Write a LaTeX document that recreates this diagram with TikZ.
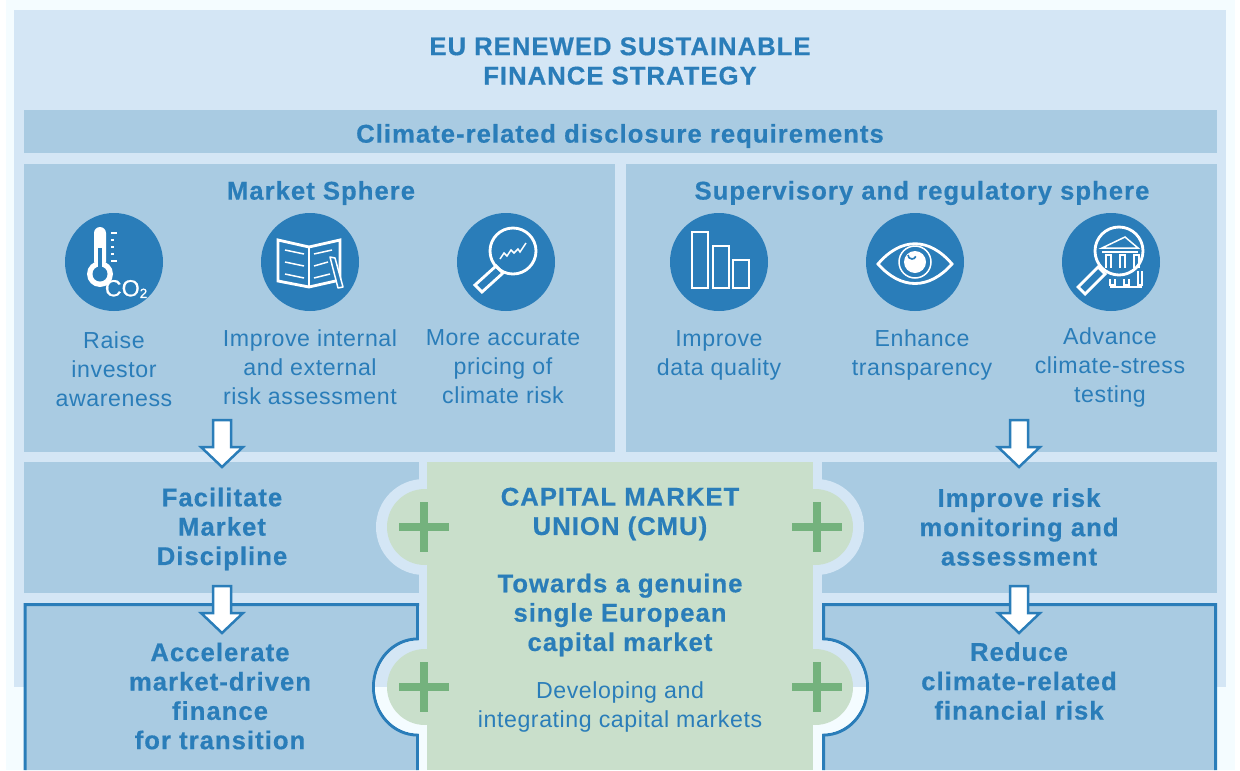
\documentclass[tikz,border=0pt]{standalone}
\usepackage{fontspec}
\setmainfont{Liberation Sans}
\newfontfamily\headfont[LetterSpace=4,FakeBold=0.5]{Liberation Sans Bold}
\newfontfamily\bodyfont[LetterSpace=2.5]{Liberation Sans}
\newfontfamily\iconfont[FakeBold=0.6]{Liberation Sans}
\definecolor{palebg}{HTML}{F4FCFF}
\definecolor{panelbg}{HTML}{D4E6F5}
\definecolor{boxblue}{HTML}{A9CBE2}
\definecolor{inkblue}{HTML}{2A7DB9}
\definecolor{cmugreen}{HTML}{C9DFCB}
\definecolor{plusgreen}{HTML}{74B27D}
\tikzset{
  headtext/.style={text=inkblue,align=center,font=\headfont\fontsize{15.4}{17.6}\selectfont},
  bodytext/.style={text=inkblue,align=center,font=\bodyfont\fontsize{13.9}{17.4}\selectfont},
  iconline/.style={draw=white,line width=1.7pt},
  iconthin/.style={draw=white,line width=0.9pt},
}
\begin{document}
\begin{tikzpicture}[x=0.6pt,y=-0.6pt]
    \useasboundingbox (0,0) rectangle (1240,770);
    %% Backgrounds
    \fill[palebg] (6,0) rectangle (1235,770);
    \fill[panelbg] (14,10) rectangle (1226,687);
    %% Top boxes
    \fill[boxblue] (24,110) rectangle (1217,153);
    \fill[boxblue] (24,164) rectangle (615,452);
    \fill[boxblue] (626,164) rectangle (1217,452);
    %% Middle boxes with their round cut
    \fill[boxblue] (24,462) rectangle (419,593);
    \fill[boxblue] (822,462) rectangle (1217,593);
    \fill[panelbg] (424,527) circle (48);
    \fill[panelbg] (816,527) circle (48);
    %% Lower boxes
    \draw[inkblue,line width=1.8pt,fill=boxblue] (25,770) -- (25,604.5) -- (417.5,604.5) -- (417.5,639)
        arc[start angle=-90,end angle=-270,x radius=44,y radius=48] -- (417.5,770);
    \draw[inkblue,line width=1.8pt,fill=boxblue] (1215.5,770) -- (1215.5,604.5) -- (823.5,604.5) -- (823.5,639)
        arc[start angle=-90,end angle=90,x radius=44,y radius=48] -- (823.5,770);
    \fill[panelbg] (419,606) rectangle (427,687);
    \fill[panelbg] (813,606) rectangle (822,687);
    \fill[panelbg] (419,687) -- (419,640.5) arc[start angle=-90,end angle=-180,x radius=44,y radius=46.5] -- cycle;
    \fill[panelbg] (822,687) -- (822,640.5) arc[start angle=-90,end angle=0,x radius=44,y radius=46.5] -- cycle;
    \fill[palebg] (419,687) -- (375,687) arc[start angle=180,end angle=90,x radius=44,y radius=46.5] -- cycle;
    \fill[palebg] (822,687) -- (866,687) arc[start angle=0,end angle=90,x radius=44,y radius=46.5] -- cycle;
    \fill[palebg] (419,687) rectangle (427,770);
    \fill[palebg] (813,687) rectangle (822,770);
    %% Capital market union
    \fill[cmugreen] (427,462) rectangle (813,770);
    \foreach \cy in {527,687} {
        \fill[cmugreen] (425,\cy) circle (38);
        \fill[cmugreen] (815,\cy) circle (38);
        \foreach \cx in {424,817} {
            \fill[plusgreen] (\cx-25,\cy-4) rectangle (\cx+25,\cy+4);
            \fill[plusgreen] (\cx-4,\cy-25) rectangle (\cx+4,\cy+25);
        }
    }
    %% Icon discs
    \foreach \ix in {114,310,506,719,915,1111}
        \fill[inkblue] (\ix,262) circle (49);
    %% Thermometer
    \begin{scope}[shift={(114,262)}]
        \fill[white] (-20,0) -- (-20,-29) arc[start angle=180,end angle=360,radius=6] -- (-8,0) -- cycle;
        \fill[white] (-14,12) circle (13);
        \fill[inkblue] (-14,12) circle (7.5);
        \fill[inkblue] (-16,-14) rectangle (-12,6);
        \foreach \ty/\tw in {-29/6,-22/3,-15/3,-8/3,-1/6}
            \fill[white] (-3,\ty-0.8) rectangle (-3+\tw,\ty+0.8);
        \node[text=white,inner sep=0pt,font=\iconfont\fontsize{14}{14}\selectfont] (co) at (12,27) {CO\raisebox{-1pt}{\fontsize{8}{8}\selectfont 2}};
    \end{scope}
    %% Book
    \begin{scope}[shift={(310,262)}]
        \draw[iconline,line join=miter] (-32,-22) -- (-1,-15) -- (30,-22) -- (30,18) -- (-1,25) -- (-32,19) -- cycle;
        \draw[iconline,line width=1pt] (-1,-15) -- (-1,25);
        \foreach \lya/\lyb in {-12/-8,0/4,12/16}
            \draw[iconthin] (-25,\lya) -- (-6,\lyb);
        \draw[iconthin] (4,-8) -- (22,-12);
        \draw[iconthin] (4,4) -- (18,0);
        \draw[iconthin] (4,16) -- (20,12);
        \draw[iconthin,fill=inkblue,line join=round] (20,-5) -- (25,-4) -- (33,25) -- (28,26) -- cycle;
    \end{scope}
    %% Magnifier with chart
    \begin{scope}[shift={(506,262)}]
        \draw[iconline] (7,-11) circle (23);
        \draw[iconline,line join=miter] (-10,4) -- (-3,11) -- (-24,30) -- (-31,23) -- cycle;
        \draw[iconthin] (-6,-3) -- (-2,-9) -- (1,-6) -- (5,-12) -- (8,-9) -- (12,-13) -- (14,-10) -- (20,-19);
    \end{scope}
    %% Bars
    \begin{scope}[shift={(719,262)}]
        \draw[iconline] (-27,-30) rectangle (-11,26);
        \draw[iconline] (-6,-16) rectangle (10,26);
        \draw[iconline] (14,-2) rectangle (30,26);
    \end{scope}
    %% Eye
    \begin{scope}[shift={(915,262)}]
        \draw[iconline,line join=miter] (-37,2) .. controls (-14,-25) and (14,-25) .. (37,2)
            .. controls (14,28) and (-14,28) .. cycle;
        \draw[iconthin] (0,0) circle (16);
        \fill[white] (0,0) circle (11);
        \draw[inkblue,line width=1pt] (-7,-7) arc[start angle=180,end angle=20,radius=4];
    \end{scope}
    %% Magnifier with bank
    \begin{scope}[shift={(1111,262)}]
        \draw[iconline] (8,-11) circle (24);
        \draw[iconline,line join=miter] (-13,5) -- (-6,12) -- (-26,32) -- (-33,25) -- cycle;
        \draw[iconthin,line join=miter] (-9,-14) -- (14,-25) -- (27,-14) -- cycle;
        \draw[iconthin] (-9,-10) -- (27,-10);
        \foreach \px in {-5,9,23}
            \draw[iconthin] (\px,6) -- (\px,-7) -- (\px+5,-7) -- (\px+5,6);
        \foreach \px in {-1,13}
            \draw[iconthin] (\px,17) -- (\px,23) -- (\px+5,23) -- (\px+5,17);
        \draw[iconthin] (27,9) -- (27,23) -- (31,23) -- (31,9);
        \draw[iconthin] (-1,25) -- (31,25);
    \end{scope}
    %% Down arrows
    \foreach \ax/\ay in {222/420,222/586,1019/420,1019/586}
        \draw[inkblue,line width=1.5pt,fill=white,line join=miter,shift={(\ax,\ay)}]
            (-9,0) -- (9,0) -- (9,27) -- (21,27) -- (0,47) -- (-21,27) -- (-9,27) -- cycle;
    %% Headings
    \node[headtext] (title) at (620,61) {EU RENEWED SUSTAINABLE\\FINANCE STRATEGY};
    \node[headtext] (climate) at (620,136) {Climate-related disclosure requirements};
    \node[headtext] (market) at (321,193) {Market Sphere};
    \node[headtext] (super) at (922,193) {Supervisory and regulatory sphere};
    %% Icon captions
    \node[bodytext] (raise) at (114,369) {Raise\\investor\\awareness};
    \node[bodytext] (assess) at (310,367) {Improve internal\\and external\\risk assessment};
    \node[bodytext] (pricing) at (503,367) {More accurate\\pricing of\\climate risk};
    \node[bodytext] (quality) at (719,355) {Improve\\data quality};
    \node[bodytext] (transp) at (922,355) {Enhance\\transparency};
    \node[bodytext] (stress) at (1110,368) {Advance\\climate-stress\\testing};
    %% Lower texts
    \node[headtext] (discipline) at (222,529) {Facilitate\\Market\\Discipline};
    \node[headtext] (monitor) at (1019,527) {Improve risk\\monitoring and\\assessment};
    \node[headtext] (accel) at (220,696) {Accelerate\\market-driven\\finance\\for transition};
    \node[headtext] (reduce) at (1019,681) {Reduce\\climate-related\\financial risk};
    \node[headtext] (cmu) at (620,514) {CAPITAL MARKET\\UNION (CMU)};
    \node[headtext] (single) at (620,615) {Towards a genuine\\single European\\capital market};
    \node[bodytext] (develop) at (620,707) {Developing and\\integrating capital markets};
\end{tikzpicture}
\end{document}
